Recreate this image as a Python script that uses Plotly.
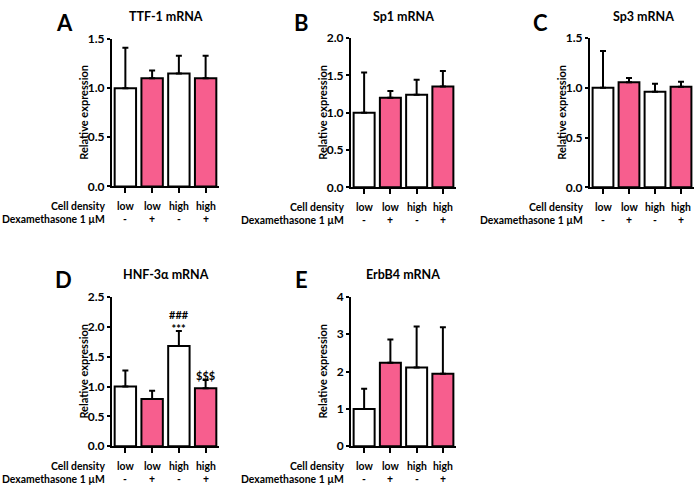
import plotly.graph_objects as go

# ---------------- data ----------------
cell_density = ["low", "low", "high", "high"]
dexamethasone = ["-", "+", "-", "+"]
row_labels = ["Cell density", "Dexamethasone 1 µM"]

ttf1_mean = [1.00, 1.10, 1.15, 1.10]
ttf1_top = [1.41, 1.18, 1.33, 1.33]

sp1_mean = [1.00, 1.20, 1.24, 1.35]
sp1_top = [1.54, 1.29, 1.44, 1.56]

sp3_mean = [1.00, 1.055, 0.96, 1.01]
sp3_top = [1.37, 1.10, 1.04, 1.06]

hnf_mean = [1.00, 0.79, 1.68, 0.97]
hnf_top = [1.27, 0.93, 1.93, 1.11]

erbb4_mean = [1.00, 2.24, 2.11, 1.94]
erbb4_top = [1.54, 2.86, 3.21, 3.19]

bar_colors = ["white", "#F75E8E", "white", "#F75E8E"]

W, H = 700, 493
FONT = "Lato"


def fx(p):
    return p / W


def fy(p):
    return 1 - p / H


panels = [
    dict(letter="A", title="TTF-1 mRNA", mean=ttf1_mean, top=ttf1_top, ymax=1.5, dtick=0.5, fmt=".1f",
         l=112, r=219, t=32, b=184, lx=64, ly=15, tx=166, ty=9, rx=84),
    dict(letter="B", title="Sp1 mRNA", mean=sp1_mean, top=sp1_top, ymax=2.0, dtick=0.5, fmt=".1f",
         l=351, r=456, t=31, b=185, lx=301, ly=15, tx=403, ty=9, rx=323),
    dict(letter="C", title="Sp3 mRNA", mean=sp3_mean, top=sp3_top, ymax=1.5, dtick=0.5, fmt=".1f",
         l=590, r=694, t=31, b=185, lx=540, ly=15, tx=643, ty=9, rx=562),
    dict(letter="D", title="HNF-3α mRNA", mean=hnf_mean, top=hnf_top, ymax=2.5, dtick=0.5, fmt=".1f",
         l=112, r=219, t=298, b=452, lx=63, ly=280, tx=166, ty=275, rx=84),
    dict(letter="E", title="ErbB4 mRNA", mean=erbb4_mean, top=erbb4_top, ymax=4, dtick=1, fmt="d",
         l=351, r=456, t=298, b=452, lx=301, ly=280, tx=403, ty=275, rx=323),
]

fig = go.Figure()
annotations = []
layout_axes = {}

for i, p in enumerate(panels):
    n = i + 1
    xa = "x" if n == 1 else f"x{n}"
    ya = "y" if n == 1 else f"y{n}"
    xkey = "xaxis" if n == 1 else f"xaxis{n}"
    ykey = "yaxis" if n == 1 else f"yaxis{n}"
    xs = list(range(len(p["mean"])))
    fig.add_trace(go.Bar(
        x=xs, y=p["mean"], width=0.8,
        marker=dict(color=bar_colors, line=dict(color="black", width=2)),
        error_y=dict(type="data", symmetric=False,
                     array=[t - m for t, m in zip(p["top"], p["mean"])],
                     arrayminus=[0] * len(xs),
                     color="black", thickness=2, width=3),
        xaxis=xa, yaxis=ya, showlegend=False, hoverinfo="skip",
    ))
    layout_axes[xkey] = dict(
        domain=[fx(p["l"]), fx(p["r"])], anchor=ya, range=[-0.5, 3.5],
        showline=True, linecolor="black", linewidth=2,
        ticks="outside", ticklen=5, tickwidth=1.5, tickcolor="black",
        tickvals=xs, showticklabels=False, showgrid=False, zeroline=False, fixedrange=True,
    )
    layout_axes[ykey] = dict(
        domain=[fy(p["b"]), fy(p["t"])], anchor=xa, range=[0, p["ymax"]],
        showline=True, linecolor="black", linewidth=2,
        ticks="outside", ticklen=3, tickwidth=2, tickcolor="black",
        dtick=p["dtick"], tick0=0, tickformat=p["fmt"],
        tickfont=dict(family=FONT, size=12, color="black", weight="bold"),
        showgrid=False, zeroline=False, fixedrange=True,
    )
    annotations.append(dict(text=p["letter"], x=fx(p["lx"]), y=fy(p["ly"]), xref="paper", yref="paper",
                            showarrow=False, xanchor="center", yanchor="middle",
                            font=dict(family=FONT, size=22, color="black", weight="bold")))
    annotations.append(dict(text=p["title"], x=fx(p["tx"]), y=fy(p["ty"]), xref="paper", yref="paper",
                            showarrow=False, xanchor="center", yanchor="middle",
                            font=dict(family=FONT, size=12.5, color="black", weight="bold")))
    annotations.append(dict(text="Relative expression", x=fx(p["rx"]), y=fy((p["t"] + p["b"]) / 2),
                            xref="paper", yref="paper", textangle=-90,
                            showarrow=False, xanchor="center", yanchor="middle",
                            font=dict(family=FONT, size=11, color="black", weight="bold")))
    for row, (lab, vals) in enumerate(zip(row_labels, [cell_density, dexamethasone])):
        yy = fy(p["b"] + 20 + row * 14)
        annotations.append(dict(text=lab, x=fx(p["l"] - 5), y=yy, xref="paper", yref="paper",
                                showarrow=False, xanchor="right", yanchor="middle",
                                font=dict(family=FONT, size=10.4, color="black", weight="bold")))
        for xi, v in zip(xs, vals):
            annotations.append(dict(text=v, x=xi, y=yy, xref=xa, yref="paper",
                                    showarrow=False, xanchor="center", yanchor="middle",
                                    font=dict(family=FONT, size=10.4, color="black", weight="bold")))

# significance marks on panel D
sig_texts = ["###<br>***", "$$$"]
sig_x = [2, 3]
sig_y = [2.09, 1.18]
for t, xv, yv in zip(sig_texts, sig_x, sig_y):
    annotations.append(dict(text=t, x=xv, y=yv, xref="x4", yref="y4", showarrow=False,
                            xanchor="center", yanchor="middle",
                            font=dict(family=FONT, size=11, color="black", weight="bold")))

fig.update_layout(
    width=W, height=H, margin=dict(l=0, r=0, t=0, b=0),
    paper_bgcolor="white", plot_bgcolor="white",
    annotations=annotations, bargap=0.14,
    **layout_axes,
)

fig.write_html("out.html", config={"displayModeBar": False},
               post_script="document.body.style.margin='0px';document.body.style.overflow='hidden';")
